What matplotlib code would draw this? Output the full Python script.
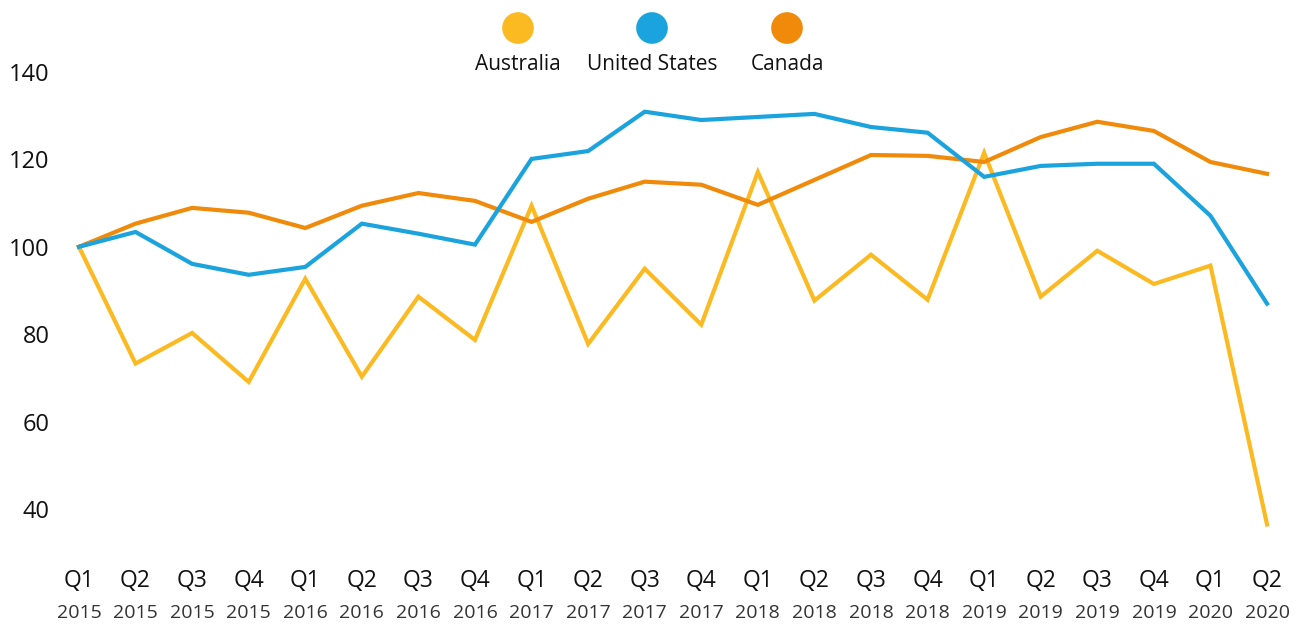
import matplotlib.pyplot as plt
import matplotlib.transforms as mtransforms

plt.rcParams['font.family'] = ['Open Sans', 'DejaVu Sans']

# 数据
quarters = ['Q1', 'Q2', 'Q3', 'Q4'] * 5 + ['Q1', 'Q2']
years = ['2015'] * 4 + ['2016'] * 4 + ['2017'] * 4 + ['2018'] * 4 + ['2019'] * 4 + ['2020'] * 2

australia = [100, 73.3, 80.3, 69.1, 92.7, 70.3, 88.6, 78.7, 109.4, 77.8, 95.0, 82.2,
             117.1, 87.7, 98.2, 87.9, 121.5, 88.6, 99.1, 91.5, 95.7, 36.5]
united_states = [100, 103.4, 96.1, 93.6, 95.4, 105.3, 103.0, 100.5, 120.1, 121.9, 130.9, 129.0,
                 129.7, 130.4, 127.4, 126.1, 116.0, 118.5, 119.0, 119.0, 107.1, 87.0]
canada = [100, 105.3, 108.9, 107.8, 104.3, 109.4, 112.3, 110.5, 105.7, 111.0, 114.9, 114.2,
          109.6, 115.3, 121.0, 120.8, 119.4, 125.1, 128.6, 126.5, 119.4, 116.7]

series_names = ['Australia', 'United States', 'Canada']
colors = {'Australia': '#FBBA22', 'United States': '#1BA3DD', 'Canada': '#F08A0A'}

x = list(range(len(quarters)))

# 画图
fig = plt.figure(figsize=(13.02, 6.28), dpi=100)
ax = fig.add_axes([62 / 1302, 83 / 628, 1222 / 1302, 505 / 628])

# 绘制顺序: 黄色在最下, 蓝色在最上
ax.plot(x, australia, color=colors['Australia'], lw=3, solid_joinstyle='miter')
ax.plot(x, canada, color=colors['Canada'], lw=3, solid_joinstyle='miter')
ax.plot(x, united_states, color=colors['United States'], lw=3, solid_joinstyle='miter')

ax.set_xlim(-0.3, 21.3)
ax.set_ylim(31.8, 147.3)
ax.set_yticks([40, 60, 80, 100, 120, 140])
ax.tick_params(axis='y', length=0, labelsize=17, pad=9, labelcolor='#111111')
ax.set_xticks(x)
ax.set_xticklabels(quarters)
ax.tick_params(axis='x', length=0, labelsize=16.5, pad=17, labelcolor='#111111')

for s in ax.spines.values():
    s.set_visible(False)

# 年份标签
trans = mtransforms.blended_transform_factory(ax.transData, fig.transFigure)
for i, yr in enumerate(years):
    ax.text(i, 15 / 628, yr, transform=trans, ha='center', va='center',
            fontsize=14, color='#333333')

# 图例 (圆点在上, 文字在下)
lax = fig.add_axes([0, 0, 1, 1], facecolor='none')
lax.set_xlim(0, 1302)
lax.set_ylim(628, 0)
lax.axis('off')
legend_x = [518, 652, 787]
for name, lx in zip(series_names, legend_x):
    lax.scatter([lx], [28], s=520, color=colors[name], edgecolors='none')
    lax.text(lx, 64, name, ha='center', va='center', fontsize=15, color='#111111')

fig.savefig('out.png', dpi=100)
